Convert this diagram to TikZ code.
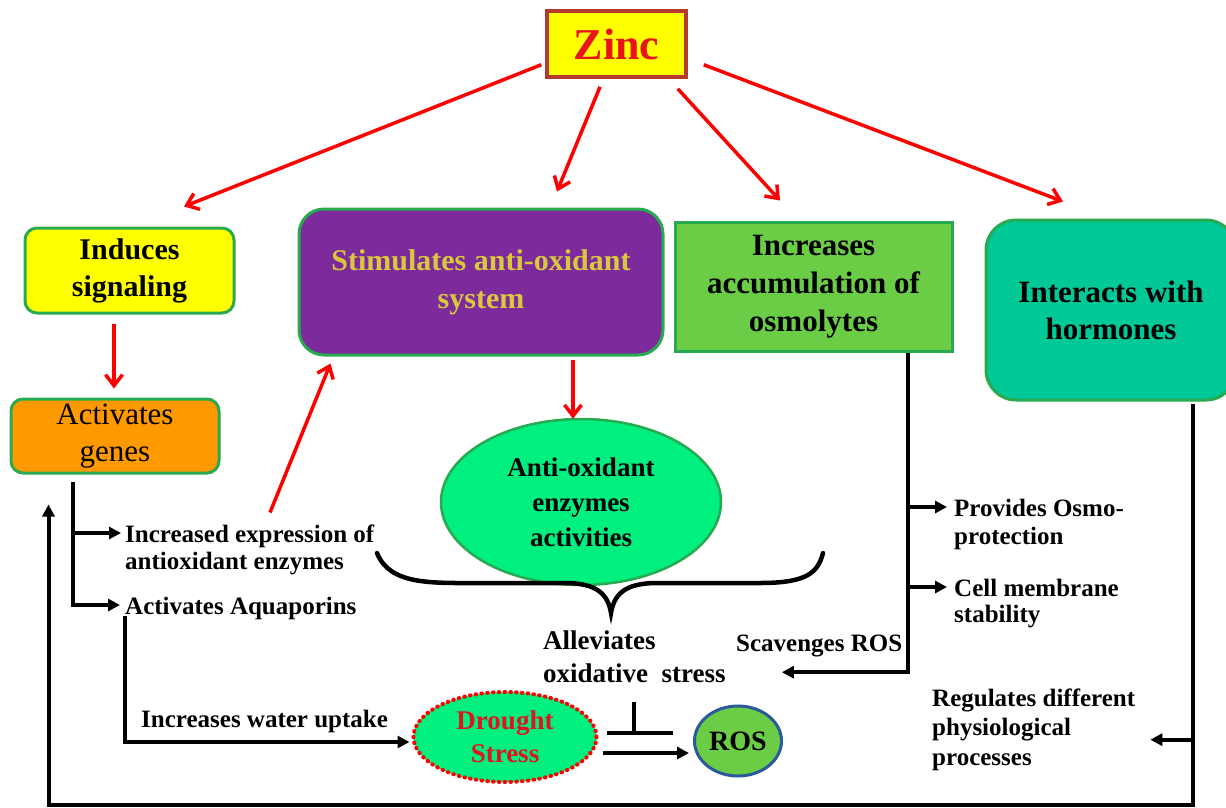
\documentclass[tikz,border=0pt]{standalone}
\usepackage{fontspec}
\setmainfont{Liberation Serif}
\usetikzlibrary{arrows.meta,calc,shapes.geometric}
\definecolor{zincY}{RGB}{255,255,0}
\definecolor{zincB}{RGB}{178,58,46}
\definecolor{zincR}{RGB}{232,20,28}
\definecolor{boxB}{RGB}{40,170,80}
\definecolor{orangeF}{RGB}{255,153,0}
\definecolor{purpleF}{RGB}{124,42,156}
\definecolor{stimY}{RGB}{218,200,60}
\definecolor{accF}{RGB}{106,205,69}
\definecolor{intF}{RGB}{0,200,150}
\definecolor{aoF}{RGB}{0,240,128}
\definecolor{rosB}{RGB}{42,90,154}
\definecolor{droughtR}{RGB}{224,20,30}
\begin{document}
\begin{tikzpicture}[x=1pt,y=-1pt,
  rbox/.style={draw=boxB, line width=3pt, align=center, inner sep=0pt},
  lbl/.style={anchor=north west, inner sep=0pt, align=left, font=\fontsize{25}{28}\selectfont\bfseries},
  rarrow/.style={draw=red, line width=3.5pt, -{Straight Barb[length=11pt,width=17pt]}},
  barrow/.style={draw=black, line width=4pt, -{Triangle[length=12pt,width=12pt]}},
  bline/.style={draw=black, line width=4pt}]
\clip (0,0) rectangle (1226,807);
\fill[white] (0,0) rectangle (1226,807);

% main boxes
\node[draw=zincB, fill=zincY, line width=3.5pt, minimum width=139, minimum height=66, inner sep=0pt,
      text=zincR, font=\fontsize{44}{48}\selectfont\bfseries] (zinc) at (616.5,44) {Zinc};
\node[rbox, rounded corners=12pt, fill=zincY, minimum width=209, minimum height=85,
      font=\fontsize{30}{37}\selectfont\bfseries] (ind) at (129.5,270.5) {Induces\\signaling};
\node[rbox, rounded corners=12pt, fill=orangeF, minimum width=208, minimum height=74,
      font=\fontsize{31}{37}\selectfont] (actv) at (115,436) {Activates\\genes};
\node[rbox, rounded corners=25pt, fill=purpleF, text=stimY, minimum width=364, minimum height=146,
      font=\fontsize{30}{38}\selectfont\bfseries] (stim) at (481,282) {Stimulates anti-oxidant\\system};
\node[rbox, fill=accF, minimum width=277, minimum height=129,
      font=\fontsize{31}{38}\selectfont\bfseries] (acc) at (813.5,286.5) {Increases\\accumulation of\\osmolytes};
\node[rbox, rounded corners=30pt, fill=intF, minimum width=250, minimum height=180,
      font=\fontsize{31}{37}\selectfont\bfseries] (intr) at (1111,310) {Interacts with\\hormones};
\node[ellipse, draw=boxB, line width=2.5pt, fill=aoF, minimum width=280, minimum height=166, inner sep=0pt,
      align=center, font=\fontsize{27}{35}\selectfont\bfseries] (ao) at (581,502) {Anti-oxidant\\enzymes\\activities};
\node[ellipse, draw=red, line width=4pt, line cap=round, dash pattern=on 0.6pt off 5.2pt, fill=aoF,
      minimum width=183, minimum height=90, inner sep=0pt, align=center, text=droughtR,
      font=\fontsize{27}{33}\selectfont\bfseries] (drought) at (505,737) {Drought\\Stress};
\node[ellipse, draw=rosB, line width=3pt, fill=accF, minimum width=87, minimum height=70, inner sep=0pt,
      font=\fontsize{28}{30}\selectfont\bfseries] (ros) at (738,741) {ROS};

% labels
\node[lbl, font=\fontsize{25}{27}\selectfont\bfseries] (incexp) at (125,524.5) {Increased expression of\\antioxidant enzymes};
\node[lbl] (aqua) at (125,596.5) {Activates Aquaporins};
\node[lbl] (water) at (141,709.5) {Increases water uptake};
\node[lbl] (scav) at (736,634.5) {Scavenges ROS};
\node[lbl] (osmo) at (954,498.5) {Provides Osmo-\\protection};
\node[lbl, font=\fontsize{25}{26}\selectfont\bfseries] (cell) at (954,578.5) {Cell membrane\\stability};
\node[lbl, font=\fontsize{25}{29.5}\selectfont\bfseries] (regul) at (932,688.5) {Regulates different\\physiological\\processes};
\node[lbl, font=\fontsize{27}{33}\selectfont\bfseries] (allev) at (543,631) {Alleviates\\oxidative\ \ stress};

% red arrows from Zinc
\draw[rarrow] ($(zinc.south west)+(-4,-14)$) -- ($(ind.north)+(54.5,-20)$);
\draw[rarrow] ($(zinc.south)+(-16.5,8)$) -- ($(stim.north)+(76,-16)$);
\draw[rarrow] ($(zinc.south east)+(-10,10)$) -- ($(acc.north)+(-33.5,-20)$);
\draw[rarrow] ($(zinc.south east)+(16,-14)$) -- ($(intr.north)+(-48,-17)$);
\draw[rarrow] ($(ind.south)+(-15.5,9)$) -- ($(actv.north)+(-1,-9)$);
\draw[rarrow] ($(stim.south)+(92,3)$) -- ($(ao.north)+(-8,1)$);
\draw[rarrow] ($(incexp.north west)+(145,-12)$) -- ($(stim.south west)+(33,7)$);

% left branch
\coordinate (lv1) at ($(actv.south)+(-42,7)$);
\coordinate (lv2) at ($(actv.south)+(-42,128)$);
\coordinate (ie) at ($(incexp.north west)+(-4,8.5)$);
\coordinate (aq) at ($(aqua.north west)+(-5,8.5)$);
\draw[bline] (lv1) -- (lv2);
\draw[barrow] (lv1 |- ie) -- (ie);
\draw[barrow] ($(lv1 |- aq)+(-2,0)$) -- (aq);
\draw[barrow] ($(aqua.south west)+(0,-4)$) |- ($(drought.west)+(-2,5)$);

% drought / ROS
\draw[barrow] ($(drought.east)+(4,16)$) -- ($(ros.west)+(-4,12)$);
\coordinate (inh) at ($(drought.east)!0.5!(ros.west)+(-12,-6)$);
\draw[bline] ($(drought.east)+(8,-4)$) -- ($(ros.west)+(-20,-8)$);
\draw[bline] ($(inh)+(0,-31)$) -- (inh);

% brace
\draw[line width=4.5pt, line cap=round] (377,553) .. controls (390,585) and (430,583) .. (480,583)
  -- (565,583) .. controls (598,583) and (608,595) .. (611,613)
  .. controls (614,595) and (624,583) .. (657,583) -- (760,583)
  .. controls (808,583) and (818,572) .. (823,553);

% osmolytes branch
\coordinate (ov) at ($(acc.south)+(94.5,0)$);
\coordinate (oa) at ($(osmo.north west)+(-7,8.5)$);
\coordinate (ca) at ($(cell.north west)+(-7,8.5)$);
\draw[barrow] (ov) |- ($(allev.east)+(56,15)$);
\draw[barrow] (ov |- oa) -- (oa);
\draw[barrow] (ov |- ca) -- (ca);

% hormones branch
\coordinate (hv) at ($(intr.south)+(82,2)$);
\coordinate (ra) at ($(regul.east)+(15,10)$);
\draw[barrow] (hv) |- ($(actv.south west)+(39,330)$) -- ($(actv.south west)+(39,30)$);
\draw[barrow] (hv |- ra) -- (ra);
\end{tikzpicture}
\end{document}
